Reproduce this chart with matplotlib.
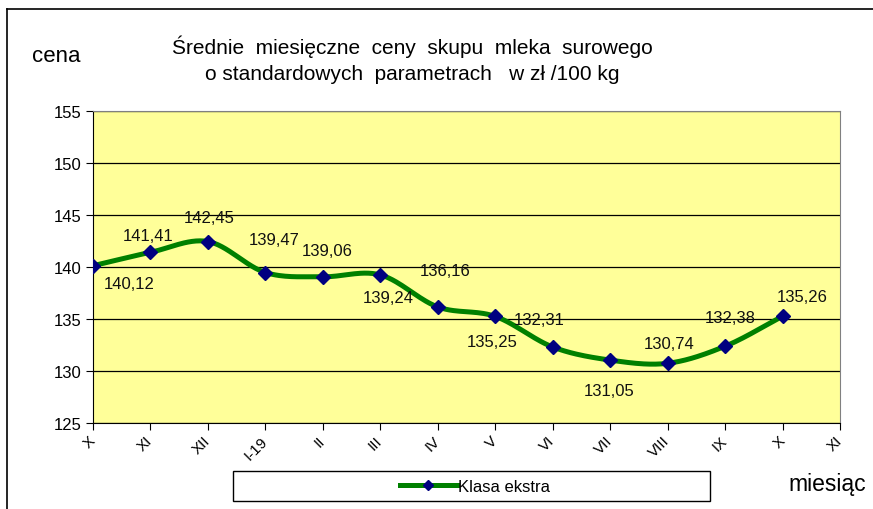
import numpy as np
import matplotlib
matplotlib.use("Agg")
import matplotlib.pyplot as plt
from matplotlib.lines import Line2D
from matplotlib.patches import Rectangle

plt.rcParams['font.family'] = ['Liberation Sans', 'DejaVu Sans']

# data
months = ["X", "XI", "XII", "I-19", "II", "III", "IV", "V", "VI", "VII", "VIII", "IX", "X", "XI"]
prices = [140.12, 141.41, 142.45, 139.47, 139.06, 139.24, 136.16, 135.25,
          132.31, 131.05, 130.74, 132.38, 135.26]
# label offsets in points (dx, dy) - placement only
lab_off = [(26, -13), (-2, 12), (1, 17), (6, 24), (3, 19), (6, -16), (5, 26), (-2, -18),
           (-10, 20), (-1, -22), (1, 14), (4, 21), (14, 14)]


def catmull(x, y, n=30):
    # smoothed curve through the points, similar to excel's smoothed line
    x = np.asarray(x, float)
    y = np.asarray(y, float)
    px = np.concatenate([[2 * x[0] - x[1]], x, [2 * x[-1] - x[-2]]])
    py = np.concatenate([[2 * y[0] - y[1]], y, [2 * y[-1] - y[-2]]])
    xs, ys = [], []
    t = np.linspace(0, 1, n)
    for i in range(1, len(px) - 2):
        for p, out in ((px, xs), (py, ys)):
            p0, p1, p2, p3 = p[i - 1], p[i], p[i + 1], p[i + 2]
            out.extend(0.5 * ((2 * p1) + (-p0 + p2) * t + (2 * p0 - 5 * p1 + 4 * p2 - p3) * t ** 2
                              + (-p0 + 3 * p1 - 3 * p2 + p3) * t ** 3))
    return np.array(xs), np.array(ys)


fig = plt.figure(figsize=(8.73, 5.10), dpi=100)
fig.patch.set_facecolor("white")
ax = fig.add_axes([93 / 873, 1 - 424 / 510, 747 / 873, 312 / 510])
ax.set_facecolor("#FFFF99")

xpos = np.arange(len(prices))
sx, sy = catmull(xpos, prices)
ax.plot(sx, sy, color="#008000", lw=3.6, solid_capstyle="round", zorder=3)
ax.plot(xpos, prices, ls="none", marker="D", ms=7.5, color="#000080", zorder=4)

for x, v, (dx, dy) in zip(xpos, prices, lab_off):
    ax.annotate(f"{v:.2f}".replace(".", ","), (x, v), xytext=(dx, dy), textcoords="offset points",
                ha="center", va="center", fontsize=12, color="#111111", zorder=5)

ax.set_xlim(0, len(months) - 1)
ax.set_ylim(125, 155)
ax.set_yticks(range(125, 156, 5))
ax.set_xticks(range(len(months)))
ax.set_xticklabels(months, rotation=45, ha="right", va="center", rotation_mode="anchor", fontsize=11)
ax.tick_params(axis="y", labelsize=12, direction="out", length=5, pad=3)
ax.tick_params(axis="x", direction="out", length=5, pad=6)
ax.yaxis.grid(True, color="black", lw=0.9)
ax.set_axisbelow(True)
for s in ("top", "right"):
    ax.spines[s].set_color("#808080")
for s in ("left", "bottom"):
    ax.spines[s].set_color("black")

# title and axis captions
fig.text(412 / 873, 1 - 60 / 510, "Średnie  miesięczne  ceny  skupu  mleka  surowego\no standardowych  parametrach   w zł /100 kg",
         ha="center", va="center", fontsize=15, linespacing=1.45)
fig.text(56 / 873, 1 - 57 / 510, "cena", ha="center", va="center", fontsize=16)
fig.text(827 / 873, 1 - 485 / 510, "miesiąc", ha="center", va="center", fontsize=16.5)

# outer frame (left and top edges)
fig.add_artist(Line2D([7 / 873, 7 / 873], [0, 1 - 10 / 510], transform=fig.transFigure, color="black", lw=1.2))
fig.add_artist(Line2D([7 / 873, 1], [1 - 10 / 510, 1 - 10 / 510], transform=fig.transFigure, color="black", lw=1.2))

# legend box
fig.add_artist(Rectangle((233 / 873, 1 - 502 / 510), 477 / 873, 30 / 510, transform=fig.transFigure,
                         facecolor="white", edgecolor="black", lw=1))
handle = Line2D([], [], color="#008000", lw=3.6, marker="D", ms=5, markerfacecolor="#000080",
                markeredgecolor="#000080")
fig.legend([handle], ["Klasa ekstra"], loc="center", bbox_to_anchor=(475 / 873, 1 - 487 / 510),
           frameon=False, fontsize=12, handlelength=3.4, handletextpad=0.1)

fig.savefig("out.png", dpi=100)
